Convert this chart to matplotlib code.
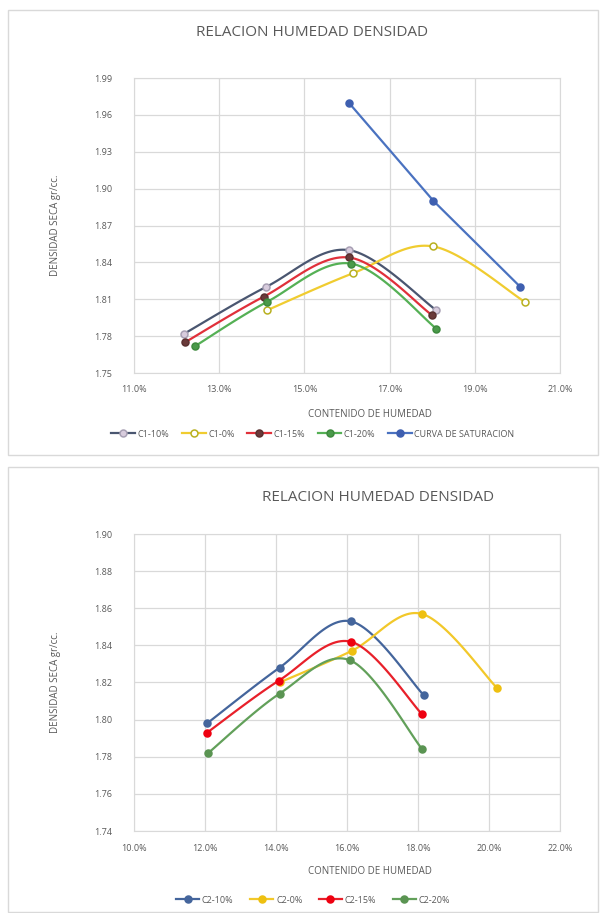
import numpy as np
import matplotlib
matplotlib.use("Agg")
from matplotlib import pyplot as plt
from matplotlib.patches import Rectangle
from matplotlib.ticker import FuncFormatter

plt.rcParams['font.family'] = ['Open Sans', 'DejaVu Sans']

# ---- data, chart 1 (humedad %, densidad seca gr/cc) ----
c1_10_x = [12.18, 14.10, 16.04, 18.10]
c1_10_y = [1.782, 1.820, 1.850, 1.801]
c1_0_x = [14.12, 16.13, 18.02, 20.17]
c1_0_y = [1.801, 1.831, 1.853, 1.808]
c1_15_x = [12.20, 14.04, 16.04, 18.00]
c1_15_y = [1.775, 1.812, 1.844, 1.797]
c1_20_x = [12.44, 14.13, 16.10, 18.10]
c1_20_y = [1.772, 1.808, 1.839, 1.786]
sat_x = [16.04, 18.03, 20.07]
sat_y = [1.970, 1.890, 1.820]

# ---- data, chart 2 ----
c2_10_x = [12.06, 14.10, 16.10, 18.17]
c2_10_y = [1.798, 1.828, 1.853, 1.813]
c2_0_x = [14.10, 16.13, 18.10, 20.23]
c2_0_y = [1.820, 1.837, 1.857, 1.817]
c2_15_x = [12.06, 14.08, 16.10, 18.11]
c2_15_y = [1.793, 1.821, 1.842, 1.803]
c2_20_x = [12.09, 14.10, 16.08, 18.12]
c2_20_y = [1.782, 1.814, 1.832, 1.784]

TXT = '#595959'
GRID = '#D9D9D9'


def smooth(xs, ys, n=30):
    # excel style smoothed line (catmull-rom bezier through the points)
    p = np.column_stack([xs, ys])
    out = [p[0]]
    for i in range(len(p) - 1):
        p0 = p[i - 1] if i > 0 else p[i]
        p1 = p[i]
        p2 = p[i + 1]
        p3 = p[i + 2] if i + 2 < len(p) else p[i + 1]
        b1 = p1 + (p2 - p0) / 6.0
        b2 = p2 - (p3 - p1) / 6.0
        t = np.linspace(0, 1, n)[1:, None]
        seg = ((1 - t) ** 3) * p1 + 3 * ((1 - t) ** 2) * t * b1 + 3 * (1 - t) * t * t * b2 + t ** 3 * p2
        out.extend(seg)
    out = np.array(out)
    return out[:, 0], out[:, 1]


def series(ax, xs, ys, label, lc, mfc, mec, hollow=False, smooth_it=True):
    if smooth_it:
        sx, sy = smooth(xs, ys)
    else:
        sx, sy = xs, ys
    ax.plot(sx, sy, color=lc, lw=1.6, zorder=3)
    ax.plot(xs, ys, ls='none', marker='o', ms=5,
            mfc='white' if hollow else mfc, mec=mec, mew=1.1, zorder=4)
    # proxy for legend
    ax.plot([], [], color=lc, lw=1.6, marker='o', ms=5,
            mfc='white' if hollow else mfc, mec=mec, mew=1.1, label=label)


def style(ax, xt, yt, ylim):
    ax.set_xlim(xt[0], xt[-1])
    ax.set_ylim(*ylim)
    ax.set_xticks(xt)
    ax.set_yticks(yt)
    ax.xaxis.set_major_formatter(FuncFormatter(lambda v, p: '%.1f%%' % v))
    ax.yaxis.set_major_formatter(FuncFormatter(lambda v, p: '%.2f' % v))
    ax.grid(True, color=GRID, lw=0.9)
    ax.set_axisbelow(True)
    for s in ax.spines.values():
        s.set_color(GRID)
    ax.tick_params(length=0, labelsize=6.5, labelcolor=TXT)
    ax.tick_params(axis='y', pad=16)
    ax.tick_params(axis='x', pad=9)
    ax.set_ylabel('DENSIDAD SECA gr/cc.', fontsize=7, color=TXT)
    ax.yaxis.set_label_coords(-0.172, 0.5)


fig = plt.figure(figsize=(6.02, 9.13), dpi=100)
W, H = 602.0, 913.0

# chart panel borders
fig.patches.append(Rectangle((8 / W, 1 - 455 / H), 590 / W, 445 / H, transform=fig.transFigure,
                             fill=False, ec=GRID, lw=1))
fig.patches.append(Rectangle((8 / W, 1 - 912 / H), 590 / W, 445 / H, transform=fig.transFigure,
                             fill=False, ec=GRID, lw=1))

# ---- top chart ----
ax1 = fig.add_axes([134 / W, 1 - 373 / H, 426 / W, 295 / H])
series(ax1, c1_10_x, c1_10_y, 'C1-10%', '#4A5670', '#D8CCDD', '#A8A0B4')
series(ax1, c1_0_x, c1_0_y, 'C1-0%', '#F0CC30', 'white', '#B8B020', hollow=True)
series(ax1, c1_15_x, c1_15_y, 'C1-15%', '#E0303A', '#6A3A3A', '#5A3030')
series(ax1, c1_20_x, c1_20_y, 'C1-20%', '#55B055', '#4A9A4A', '#3E8A3E')
series(ax1, sat_x, sat_y, 'CURVA DE SATURACION', '#4A72C0', '#3E5FB0', '#3E5FB0', smooth_it=False)
style(ax1, np.arange(11, 21.1, 2), np.round(np.arange(1.75, 1.991, 0.03), 2), (1.75, 1.99))
fig.text(312 / W, 1 - 33 / H, 'RELACION HUMEDAD DENSIDAD', ha='center', va='center',
         fontsize=11, color=TXT)
fig.text(370 / W, 1 - 414 / H, 'CONTENIDO DE HUMEDAD', ha='center', va='center',
         fontsize=7, color=TXT)
fig.legend(*ax1.get_legend_handles_labels(), loc='center', bbox_to_anchor=(313 / W, 1 - 434 / H),
           ncol=5, frameon=False, fontsize=6.5, handlelength=2.6, columnspacing=1.4,
           handletextpad=0.3, labelcolor=TXT)

# ---- bottom chart ----
ax2 = fig.add_axes([134 / W, 1 - 831 / H, 426 / W, 297 / H])
series(ax2, c2_10_x, c2_10_y, 'C2-10%', '#44659C', '#44659C', '#44659C')
series(ax2, c2_0_x, c2_0_y, 'C2-0%', '#F2C82A', '#EEC010', '#EEC010')
series(ax2, c2_15_x, c2_15_y, 'C2-15%', '#E8202A', '#EE0010', '#EE0010')
series(ax2, c2_20_x, c2_20_y, 'C2-20%', '#62A05A', '#5A9452', '#5A9452')
style(ax2, np.arange(10, 22.1, 2), np.round(np.arange(1.74, 1.901, 0.02), 2), (1.74, 1.90))
fig.text(378 / W, 1 - 497 / H, 'RELACION HUMEDAD DENSIDAD', ha='center', va='center',
         fontsize=11, color=TXT)
fig.text(370 / W, 1 - 872 / H, 'CONTENIDO DE HUMEDAD', ha='center', va='center',
         fontsize=7, color=TXT)
fig.legend(*ax2.get_legend_handles_labels(), loc='center', bbox_to_anchor=(313 / W, 1 - 900 / H),
           ncol=4, frameon=False, fontsize=6.5, handlelength=2.6, columnspacing=1.8,
           handletextpad=0.3, labelcolor=TXT)

fig.savefig('out.png', dpi=100)
